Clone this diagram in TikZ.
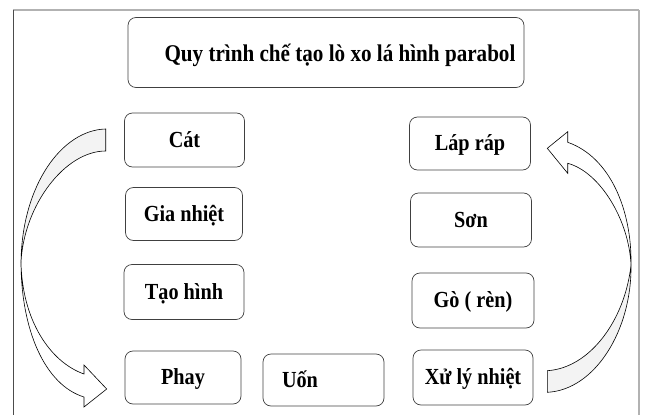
\documentclass[tikz,border=0pt]{standalone}
\usepackage{fontspec}
\setmainfont[FakeStretch=0.88]{Liberation Serif}
\definecolor{nenmui}{HTML}{F3F3F3}
\begin{document}
\begin{tikzpicture}[x=1pt, y=-1pt,
        buoc/.style={draw=black!75, rounded corners=8pt, line width=0.7pt, inner sep=0pt, minimum width=120pt, minimum height=54pt, font=\fontsize{23}{27}\selectfont\bfseries, text height=18pt, text depth=4pt},
        tieude/.style={buoc, minimum width=396pt, minimum height=70pt, font=\fontsize{24}{29}\selectfont\bfseries, text height=22pt},
        muiten/.style={draw=black, line width=0.6pt, line join=miter}]
        \useasboundingbox (0,0) rectangle (650,415);
        % khung
        \draw[gray!60, line width=1.5pt] (13,10) -- (639,10) ;
        \draw[black!70, line width=1pt] (13,10) -- (13,415) ;
        \draw[gray!60, line width=1.5pt] (639,10) -- (639,415) ;
        % cac buoc
        \node[tieude] (tieude) at (326,52.5) {\hspace*{28pt}Quy trình chế tạo lò xo lá hình parabol};
        \node[buoc] (cat) at (184.5,140) {Cát};
        \node[buoc, minimum width=117pt, minimum height=53pt] (gianhiet) at (184,214) {Gia nhiệt};
        \node[buoc, minimum height=55pt] (taohinh) at (184,292) {Tạo hình};
        \node[buoc, minimum width=116pt, minimum height=53pt] (phay) at (183,377.5) {Phay};
        \node[buoc, minimum width=121pt, minimum height=52pt] (uon) at (323.5,380) {Uốn\hspace*{47pt}};
        \node[buoc, minimum width=121pt, minimum height=53pt] (laprap) at (470,143.5) {Láp ráp};
        \node[buoc, minimum width=121pt] (son) at (471,220) {Sơn};
        \node[buoc, minimum width=122pt, minimum height=55pt] (go) at (473,300.5) {Gò ( rèn)};
        \node[buoc, minimum height=55pt] (xuly) at (473,377.5) {Xử lý nhiệt};
        % mui ten trai
        \draw[muiten, fill=nenmui] (105.7,129) .. controls (62,130) and (22,185) .. (21,262) .. controls (24,205) and (65,151) .. (105.7,151) -- cycle ;
        \draw[muiten, fill=white] (21,262) .. controls (21,330) and (45,385) .. (84,397) -- (84,407) -- (106.7,389) -- (84,365) -- (84,374) .. controls (50,362) and (22,320) .. (21,262) -- cycle ;
        % mui ten phai
        \draw[muiten, fill=nenmui] (547.3,370.7) .. controls (590,368) and (625,320) .. (631,265) .. controls (632,330) and (595,390) .. (547.3,392.3) -- cycle ;
        \draw[muiten, fill=white] (631,265) .. controls (632,210) and (610,157) .. (567.7,142.3) -- (567.7,131.7) -- (547.3,148.3) -- (567.7,173.3) -- (567.7,163.3) .. controls (600,172) and (629,220) .. (631,265) -- cycle ;
\end{tikzpicture}
\end{document}
